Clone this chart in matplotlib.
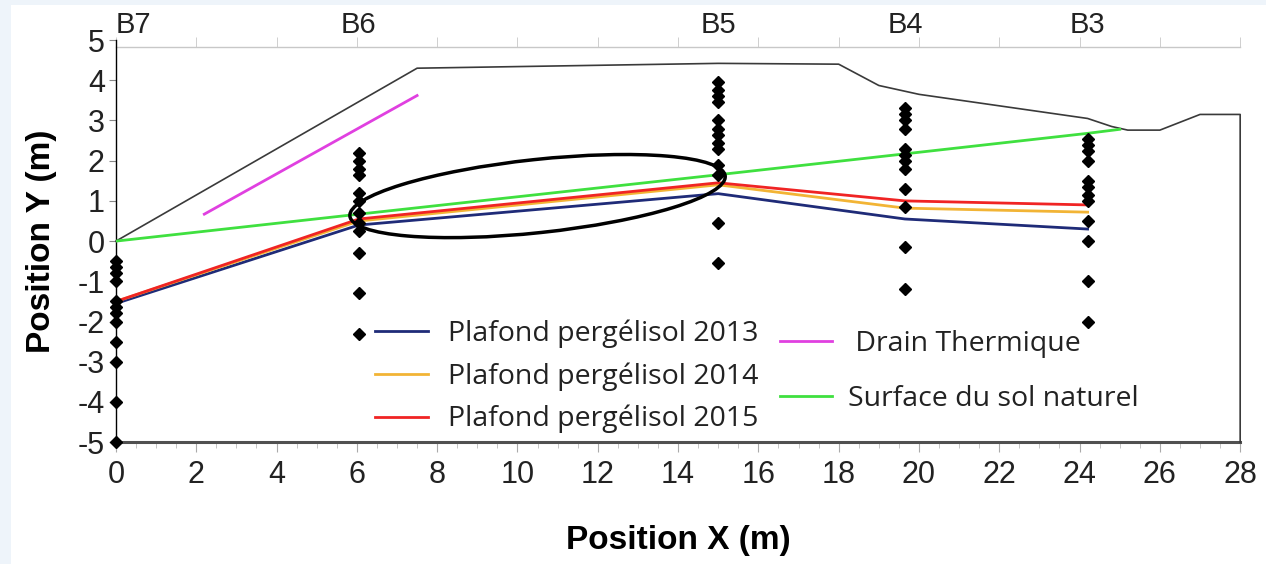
import matplotlib
matplotlib.use("Agg")
import matplotlib.pyplot as plt
from matplotlib.patches import Ellipse, Rectangle
from matplotlib.ticker import MultipleLocator
import numpy as np

plt.rcParams["axes.unicode_minus"] = False

# forages (boreholes) along the section
bh_names = ["B7", "B6", "B5", "B4", "B3"]
bh_x = [0.0, 6.05, 15.0, 19.65, 24.2]

# thermistor depths in each borehole (m)
bh_depths = [
    [-0.5, -0.65, -0.8, -1.0, -1.5, -1.65, -1.8, -2.0, -2.5, -3.0, -4.0, -5.0],
    [2.2, 2.0, 1.8, 1.65, 1.2, 1.0, 0.7, 0.45, 0.25, -0.3, -1.3, -2.3],
    [3.95, 3.75, 3.6, 3.45, 3.0, 2.8, 2.65, 2.45, 2.3, 1.9, 1.65, 0.45, -0.55],
    [3.3, 3.15, 3.0, 2.8, 2.3, 2.15, 2.0, 1.8, 1.3, 0.85, -0.15, -1.2],
    [2.55, 2.4, 2.25, 2.0, 1.5, 1.35, 1.15, 1.0, 0.5, 0.0, -1.0, -2.0],
]

# permafrost table per year, read at each borehole
top_2013 = [-1.55, 0.4, 1.18, 0.55, 0.3]
top_2014 = [-1.5, 0.5, 1.4, 0.82, 0.72]
top_2015 = [-1.5, 0.55, 1.45, 1.0, 0.9]

# natural ground surface
ground_x = [0.0, 6.05, 15.0, 19.65, 24.2, 25.0]
ground_y = [0.0, 0.67, 1.65, 2.17, 2.68, 2.78]

# embankment profile
embank_x = [0.0, 7.5, 15.0, 18.0, 19.0, 20.0, 24.2, 24.8, 25.2, 26.0, 27.0, 28.0, 28.0]
embank_y = [0.0, 4.3, 4.42, 4.4, 3.87, 3.65, 3.05, 2.85, 2.76, 2.76, 3.15, 3.15, -5.0]

# thermal drain
drain_x = [2.2, 7.5]
drain_y = [0.67, 3.62]

fig = plt.figure(figsize=(12.66, 5.64), dpi=100)
fig.patch.set_facecolor("#eef4fa")
fig.patches.append(Rectangle((0.009, 0), 0.991, 0.992, transform=fig.transFigure,
                             facecolor="white", edgecolor="none", zorder=-10))
ax = fig.add_axes([0.0916, 0.216, 0.888, 0.713])
ax.set_xlim(0, 28)
ax.set_ylim(-5, 5)

ax.plot(embank_x, embank_y, color="#3a3a3a", lw=1.2, zorder=3, clip_on=False)
l_drain, = ax.plot(drain_x, drain_y, color="#e040e0", lw=2.0, zorder=3,
                   label=" Drain Thermique")
l_ground, = ax.plot(ground_x, ground_y, color="#3fe03f", lw=2.0, zorder=3,
                    label="Surface du sol naturel")
l13, = ax.plot(bh_x, top_2013, color="#1f2b78", lw=2.0, zorder=3,
               label="Plafond pergélisol 2013")
l14, = ax.plot(bh_x, top_2014, color="#f2b435", lw=2.0, zorder=3,
               label="Plafond pergélisol 2014")
l15, = ax.plot(bh_x, top_2015, color="#f02424", lw=2.0, zorder=3,
               label="Plafond pergélisol 2015")

for xb, depths in zip(bh_x, bh_depths):
    ax.plot([xb] * len(depths), depths, linestyle="none", marker="D",
            markersize=6.3, color="black", zorder=4, clip_on=False)

ax.add_patch(Ellipse((10.5, 1.12), 9.4, 1.82, angle=6.1, fill=False,
                     edgecolor="black", lw=2.5, zorder=5))

# axes styling
for s in ["top", "right"]:
    ax.spines[s].set_visible(False)
ax.spines["left"].set_color("black")
ax.spines["left"].set_linewidth(1.0)
ax.spines["bottom"].set_color("#505050")
ax.spines["bottom"].set_linewidth(2.2)

ax.set_xticks(np.arange(0, 29, 2))
ax.xaxis.set_minor_locator(MultipleLocator(0.5))
ax.set_yticks(np.arange(-5, 6, 1))
ax.tick_params(axis="x", which="major", length=7, color="#aaaaaa",
               labelsize=22, pad=6, labelcolor="#222222")
ax.tick_params(axis="x", which="minor", length=4, color="#bbbbbb")
ax.tick_params(axis="y", length=5, color="#888888", labelsize=22,
               pad=3, labelcolor="#222222")
for lab in ax.get_xticklabels() + ax.get_yticklabels():
    lab.set_fontfamily("Liberation Sans")

ax.set_xlabel("Position X (m)", fontsize=24, fontweight="bold",
              fontfamily="Liberation Sans", labelpad=25)
ax.set_ylabel("Position Y (m)", fontsize=24, fontweight="bold",
              fontfamily="Liberation Sans", labelpad=15)

# borehole axis on top
top = ax.secondary_xaxis((4.83 + 5) / 10)
top.xaxis.remove_overlapping_locs = False
top.set_xticks(bh_x, labels=bh_names)
top.xaxis.set_minor_locator(MultipleLocator(2))
top.spines["top"].set_color("#c8c8c8")
top.spines["top"].set_linewidth(1.0)
top.tick_params(which="major", length=0, pad=6, labelsize=21, labelcolor="#222222")
top.tick_params(which="minor", length=7, color="#c8c8c8")
for lab in top.get_xticklabels():
    lab.set_fontfamily("Liberation Sans")
top.get_xticklabels()[0].set_horizontalalignment("left")

leg_font = {"family": "Open Sans", "size": 20.5}
leg1 = ax.legend(handles=[l13, l14, l15], loc="upper left",
                 bbox_to_anchor=(0.2304, 0.305), frameon=False, prop=leg_font,
                 borderpad=0, borderaxespad=0, handlelength=1.85,
                 handletextpad=0.7, labelspacing=0.5)
for t in leg1.get_texts():
    t.set_color("#222222")
ax.add_artist(leg1)
leg2 = ax.legend(handles=[l_drain, l_ground], loc="upper left",
                 bbox_to_anchor=(0.5905, 0.28), frameon=False, prop=leg_font,
                 borderpad=0, borderaxespad=0, handlelength=1.85,
                 handletextpad=0.55, labelspacing=0.95)
for t in leg2.get_texts():
    t.set_color("#222222")

fig.savefig("out.png", dpi=100)
